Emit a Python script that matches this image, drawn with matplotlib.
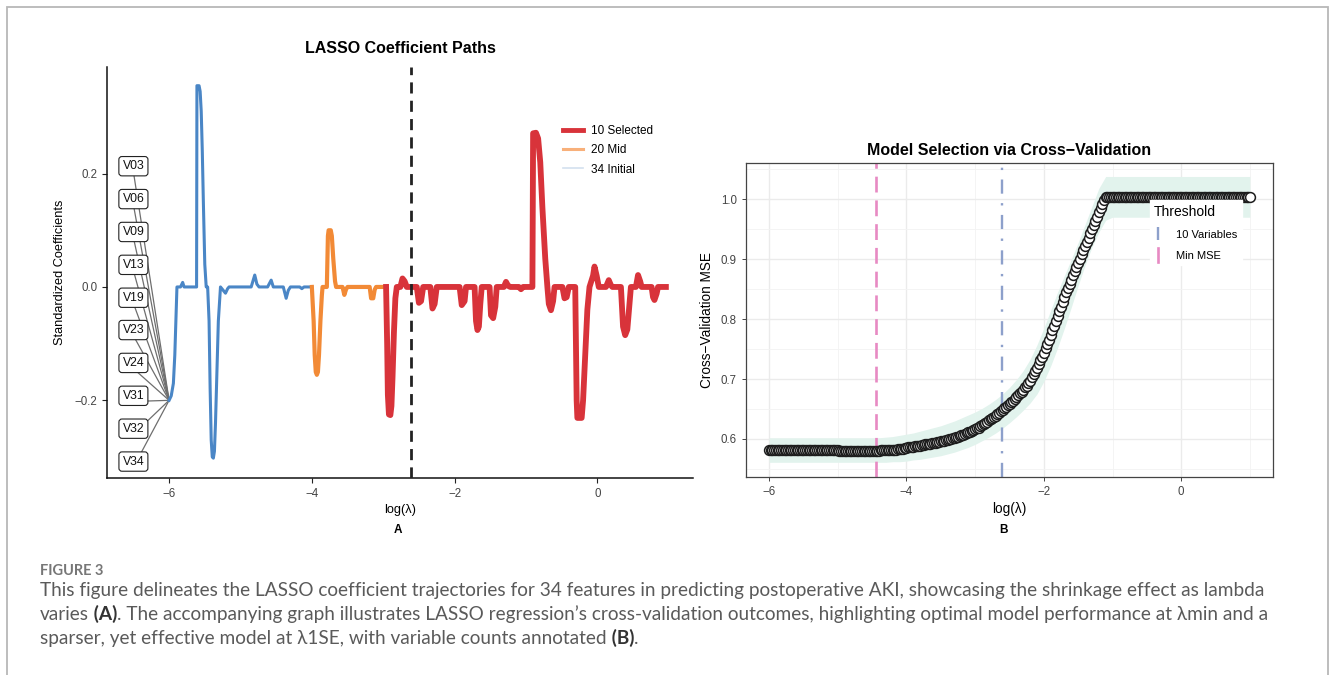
import numpy as np
import matplotlib.pyplot as plt
from matplotlib.lines import Line2D
from matplotlib.patches import Rectangle
from matplotlib.legend_handler import HandlerLine2D

plt.rcParams['font.family'] = ['Liberation Sans', 'DejaVu Sans']

# ---- panel A : coefficient paths (log lambda, coef)
blue_path = [(-6.00, -0.200), (-5.97, -0.192), (-5.94, -0.170), (-5.92, -0.120), (-5.905, -0.060),
             (-5.89, 0.000), (-5.84, 0.000), (-5.81, 0.008), (-5.79, 0.000), (-5.615, 0.000),
             (-5.61, 0.355), (-5.58, 0.355), (-5.565, 0.345), (-5.55, 0.310), (-5.535, 0.240),
             (-5.52, 0.150), (-5.50, 0.040), (-5.48, 0.000), (-5.46, 0.000), (-5.44, -0.060),
             (-5.425, -0.180), (-5.41, -0.270), (-5.395, -0.300), (-5.38, -0.302), (-5.365, -0.290),
             (-5.35, -0.240), (-5.33, -0.150), (-5.31, -0.060), (-5.28, 0.000), (-5.21, -0.011),
             (-5.18, -0.003), (-5.16, 0.000), (-4.85, 0.000), (-4.80, 0.021), (-4.77, 0.005),
             (-4.74, 0.000), (-4.62, 0.000), (-4.57, 0.012), (-4.54, 0.000), (-4.40, 0.000),
             (-4.36, -0.020), (-4.33, -0.006), (-4.30, 0.000), (-4.17, 0.000), (-4.14, -0.003),
             (-4.11, 0.000), (-4.00, 0.000)]
orange_path = [(-4.00, 0.000), (-3.975, -0.060), (-3.96, -0.120), (-3.945, -0.150), (-3.93, -0.155),
               (-3.915, -0.150), (-3.90, -0.120), (-3.88, -0.060), (-3.86, -0.015), (-3.85, 0.000),
               (-3.79, 0.000), (-3.775, 0.090), (-3.765, 0.100), (-3.735, 0.100), (-3.72, 0.090),
               (-3.70, 0.050), (-3.675, 0.010), (-3.66, 0.000), (-3.57, 0.000), (-3.545, -0.014),
               (-3.52, -0.004), (-3.50, 0.000), (-3.19, 0.000), (-3.17, -0.020), (-3.14, -0.020),
               (-3.12, -0.005), (-3.10, 0.000), (-2.96, 0.000)]
red_path = [(-2.96, 0.000), (-2.945, -0.100), (-2.935, -0.190), (-2.92, -0.225), (-2.90, -0.226),
            (-2.885, -0.210), (-2.87, -0.160), (-2.85, -0.080), (-2.83, -0.020), (-2.81, 0.000),
            (-2.76, 0.000), (-2.73, 0.015), (-2.70, 0.010), (-2.67, 0.000), (-2.53, 0.000),
            (-2.50, -0.028), (-2.47, -0.025), (-2.44, 0.000), (-2.34, 0.000), (-2.31, -0.038),
            (-2.28, -0.030), (-2.25, 0.000), (-1.93, 0.000), (-1.90, -0.032), (-1.86, -0.025),
            (-1.84, 0.000), (-1.72, 0.000), (-1.70, -0.060), (-1.68, -0.076), (-1.66, -0.070),
            (-1.64, -0.030), (-1.62, 0.000), (-1.51, 0.000), (-1.49, -0.050), (-1.46, -0.055),
            (-1.43, -0.035), (-1.41, 0.000), (-1.31, 0.000), (-1.28, 0.009), (-1.25, 0.002),
            (-1.22, 0.000), (-1.10, 0.000), (-1.07, -0.004), (-1.04, 0.000), (-0.91, 0.000),
            (-0.90, 0.271), (-0.86, 0.272), (-0.83, 0.262), (-0.80, 0.220), (-0.77, 0.140),
            (-0.73, 0.050), (-0.70, 0.000), (-0.68, -0.030), (-0.65, -0.041), (-0.62, -0.025),
            (-0.60, 0.000), (-0.49, 0.000), (-0.46, -0.020), (-0.43, -0.018), (-0.40, 0.000),
            (-0.31, 0.000), (-0.29, -0.200), (-0.28, -0.231), (-0.22, -0.231), (-0.20, -0.200),
            (-0.17, -0.120), (-0.14, -0.040), (-0.11, 0.000), (-0.06, 0.020), (-0.04, 0.036),
            (-0.01, 0.020), (0.02, 0.000), (0.12, 0.000), (0.16, 0.012), (0.19, 0.003),
            (0.21, 0.000), (0.33, 0.000), (0.36, -0.070), (0.39, -0.085), (0.42, -0.075),
            (0.45, -0.030), (0.47, 0.000), (0.54, 0.000), (0.57, 0.021), (0.60, 0.010),
            (0.62, 0.000), (0.76, 0.000), (0.78, -0.018), (0.80, -0.023), (0.83, -0.012),
            (0.85, 0.000), (0.96, 0.000)]

var_names = ['V03', 'V06', 'V09', 'V13', 'V19', 'V23', 'V24', 'V31', 'V32', 'V34']
var_label_y = [0.213, 0.155, 0.097, 0.039, -0.019, -0.076, -0.134, -0.192, -0.250, -0.308]
label_x = -6.5
start_pt = (-6.0, -0.2)
lam_1se = -2.61
lam_min = -4.45

# ---- panel B : cross-validation curve, log lambda grid -6 .. 1 in steps of 0.025
lam_cv = np.round(np.linspace(-6.0, 1.0, 281), 3)
mse_cv = ([0.581] * 41 + [0.580] * 20 +
          # -4.475 .. -3.025
          [0.580, 0.580, 0.580, 0.580, 0.581, 0.581, 0.581, 0.581, 0.581, 0.581,
           0.582, 0.582, 0.582, 0.582, 0.583, 0.583, 0.584, 0.584, 0.585, 0.585,
           0.586, 0.586, 0.587, 0.587, 0.588, 0.588, 0.589, 0.589, 0.590, 0.590,
           0.591, 0.591, 0.592, 0.592, 0.593, 0.593, 0.594, 0.595, 0.595, 0.596,
           0.597, 0.597, 0.598, 0.599, 0.600, 0.600, 0.601, 0.602, 0.603, 0.604,
           0.605, 0.606, 0.607, 0.608, 0.610, 0.611, 0.612, 0.613, 0.615] +
          # -3.0 .. -1.1
          [0.616, 0.618, 0.619, 0.621, 0.623, 0.625, 0.627, 0.629, 0.631, 0.633,
           0.635, 0.637, 0.639, 0.641, 0.644, 0.646, 0.648, 0.651, 0.653, 0.656,
           0.658, 0.661, 0.664, 0.667, 0.670, 0.673, 0.676, 0.679, 0.682, 0.686,
           0.689, 0.693, 0.697,
           0.703, 0.708, 0.713, 0.719, 0.725, 0.731, 0.737, 0.744, 0.751, 0.758,
           0.765, 0.773, 0.781, 0.789, 0.797, 0.805, 0.813, 0.821, 0.829, 0.837,
           0.845, 0.852, 0.859, 0.866, 0.873, 0.880, 0.887, 0.894, 0.901, 0.908,
           0.915, 0.922, 0.929, 0.936, 0.943, 0.950, 0.957, 0.964, 0.971, 0.978,
           0.985, 0.992, 0.998, 1.003] +
          # -1.075 .. 1.0
          [1.003] * 84)

lam_band = np.round(np.arange(-6.0, 1.001, 0.1), 1)
band_lo = [0.561] * 16 + [0.561, 0.561, 0.562, 0.562, 0.563, 0.565, 0.566, 0.568, 0.570, 0.572,
                          0.575, 0.578, 0.582, 0.586, 0.591, 0.597, 0.603, 0.610, 0.618, 0.627,
                          0.637, 0.648, 0.660, 0.675, 0.696, 0.722, 0.752, 0.785, 0.820, 0.856,
                          0.890, 0.920, 0.945, 0.965] + [0.970] * 21
band_hi = [0.602] * 16 + [0.602, 0.603, 0.604, 0.606, 0.608, 0.610, 0.613, 0.616, 0.619, 0.622,
                          0.626, 0.630, 0.635, 0.640, 0.645, 0.651, 0.658, 0.666, 0.675, 0.686,
                          0.699, 0.714, 0.733, 0.757, 0.785, 0.815, 0.845, 0.873, 0.900, 0.928,
                          0.958, 0.988, 1.018, 1.038] + [1.038] * 21

caption_1 = ("This figure delineates the LASSO coefficient trajectories for 34 features in predicting "
             "postoperative AKI, showcasing the shrinkage effect as lambda")
caption_2 = (". The accompanying graph illustrates LASSO regression\u2019s cross-validation outcomes, "
             "highlighting optimal model performance at \u03bbmin and a")
caption_3 = "sparser, yet effective model at \u03bb1SE, with variable counts annotated"


class VLineHandler(HandlerLine2D):
    # ggplot style vertical key glyph
    def create_artists(self, legend, orig, xdescent, ydescent, width, height, fontsize, trans):
        x = width / 2 - xdescent
        ln = Line2D([x, x], [-ydescent - 0.35 * height, 1.35 * height - ydescent],
                    color=orig.get_color(), lw=orig.get_linewidth(), linestyle=orig.get_linestyle())
        ln.set_transform(trans)
        return [ln]


fig = plt.figure(figsize=(13.3, 6.75), dpi=100)

# outer frame
fig.add_artist(Rectangle((7 / 1330, -0.05), 1322 / 1330 - 0.0005, 1.05 - 7 / 675, transform=fig.transFigure,
                         fill=False, edgecolor='#b8b8b8', lw=1.3))

# ------------------------------------------------------------ panel A
ax = fig.add_axes([107 / 1330, 1 - 478 / 675, 586 / 1330, 411 / 675])
for name, yv in zip(var_names, var_label_y):
    ax.plot([label_x, start_pt[0]], [yv - 0.01, start_pt[1]], color='#6e6e6e', lw=0.9, zorder=2)
    ax.text(label_x, yv, name, ha='center', va='center', fontsize=8.8, color='#111', zorder=5,
            bbox=dict(boxstyle='round,pad=0.3,rounding_size=0.25', fc='white', ec='#222', lw=0.8))

bx, by = zip(*blue_path)
ox, oy = zip(*orange_path)
rx, ry = zip(*red_path)
ax.plot(bx, by, color='#c9dcef', lw=1.0, zorder=3)
ax.plot(bx, by, color='#4a86c6', lw=2.2, zorder=3)
ax.plot(ox, oy, color='#f28a36', lw=3.0, zorder=3, solid_joinstyle='round')
ax.plot(rx, ry, color='#d8333a', lw=4.2, zorder=3, solid_joinstyle='round')
ax.axvline(lam_1se, color='#222222', lw=2.0, ls=(0, (4, 2.6)), zorder=4)

ax.set_xlim(-6.87, 1.34)
ax.set_ylim(-0.337, 0.388)
ax.set_xticks([-6, -4, -2, 0])
ax.set_yticks([-0.2, 0.0, 0.2])
ax.set_yticklabels(['\u22120.2', '0.0', '0.2'])
for s in ['top', 'right']:
    ax.spines[s].set_visible(False)
for s in ['left', 'bottom']:
    ax.spines[s].set_linewidth(1.1)
    ax.spines[s].set_color('#111')
ax.tick_params(length=3.5, width=0.8, labelsize=8.3, labelcolor='#444', color='#222')
ax.set_xlabel('log(\u03bb)', fontsize=9.2, labelpad=3)
ax.set_ylabel('Standardized Coefficients', fontsize=9.2, labelpad=6)
ax.set_title('LASSO Coefficient Paths', fontsize=11.5, fontweight='bold', pad=10)

leg_a = [Line2D([], [], color='#d8333a', lw=3.5, label='10 Selected'),
         Line2D([], [], color='#f8b07a', lw=2.2, label='20 Mid'),
         Line2D([], [], color='#d3e0ef', lw=1.2, label='34 Initial')]
ax.legend(handles=leg_a, loc='upper left', bbox_to_anchor=(0.76, 0.885), frameon=False,
          fontsize=8.5, handlelength=1.7, labelspacing=0.62, handletextpad=0.7)

# ------------------------------------------------------------ panel B
ax2 = fig.add_axes([745.7 / 1330, 1 - 476.7 / 675, 527.6 / 1330, 313.4 / 675])
ax2.fill_between(lam_band, band_lo, band_hi, color='#e2f3ed', lw=0, zorder=1)
ax2.scatter(lam_cv, mse_cv, s=50, facecolor='white', edgecolor='#1c1c1c', linewidth=1.1, zorder=3)
ax2.axvline(lam_1se, color='#8da0cb', lw=1.7, ls=(0, (6, 4, 1, 4)), zorder=2)
ax2.axvline(lam_min, color='#e78ac3', lw=1.9, ls=(0, (6, 3)), zorder=2)

ax2.set_xlim(-6.34, 1.34)
ax2.set_ylim(0.537, 1.060)
ax2.set_xticks([-6, -4, -2, 0])
ax2.set_xticks([-5, -3, -1, 1], minor=True)
ax2.set_yticks([0.6, 0.7, 0.8, 0.9, 1.0])
ax2.set_yticks([0.55, 0.65, 0.75, 0.85, 0.95, 1.05], minor=True)
ax2.grid(which='major', color='#ebebeb', lw=1.0, zorder=0)
ax2.grid(which='minor', color='#f3f3f3', lw=0.6, zorder=0)
ax2.set_axisbelow(True)
for s in ax2.spines.values():
    s.set_color('#444')
    s.set_linewidth(0.9)
ax2.tick_params(which='major', length=3, width=0.7, labelsize=8.3, labelcolor='#444', color='#444')
ax2.tick_params(which='minor', length=0)
ax2.set_xlabel('log(\u03bb)', fontsize=9.8, labelpad=3)
ax2.set_ylabel('Cross\u2212Validation MSE', fontsize=9.8, labelpad=5)
ax2.set_title('Model Selection via Cross\u2212Validation', fontsize=11.5, fontweight='bold', pad=6)

leg_b = [Line2D([], [], color='#8da0cb', lw=1.7, ls='-.', label='10 Variables'),
         Line2D([], [], color='#e78ac3', lw=1.9, ls='-', label='Min MSE')]
lg = ax2.legend(handles=leg_b, title='Threshold', loc='upper left', bbox_to_anchor=(0.755, 0.9),
                frameon=True, fancybox=False, edgecolor='white', framealpha=1.0, fontsize=8,
                title_fontsize=10, handlelength=0.8, handletextpad=1.2, labelspacing=1.0,
                alignment='left', handler_map={Line2D: VLineHandler()})

# ------------------------------------------------------------ figure text
ov = fig.add_axes([0, 0, 1, 1], zorder=-1)
ov.axis('off')
ov.set_xlim(0, 1330)
ov.set_ylim(675, 0)
ov.text(398, 530, 'A', ha='center', va='center', fontsize=8.5, fontweight='bold')
ov.text(1003, 530, 'B', ha='center', va='center', fontsize=8.5, fontweight='bold')

cap_font = ['Lato', 'DejaVu Sans']
cap_col = '#5a5a5a'
cap_size = 13.7
ov.text(40, 575, 'FIGURE 3', fontsize=10.5, color='#777777', family=cap_font, fontweight='bold', va='baseline')
ov.text(40, 596, caption_1, fontsize=cap_size, color=cap_col, family=cap_font, va='baseline')
t = ov.text(40, 620, 'varies', fontsize=cap_size, color=cap_col, family=cap_font, va='baseline')
t = ov.annotate(' (A)', xy=(1, 0), xycoords=t, va='bottom', ha='left', fontsize=cap_size,
                color='#333333', family=cap_font, fontweight='bold')
ov.annotate(caption_2, xy=(1, 0), xycoords=t, va='bottom', ha='left', fontsize=cap_size,
            color=cap_col, family=cap_font)
t = ov.text(40, 644, caption_3, fontsize=cap_size, color=cap_col, family=cap_font, va='baseline')
t = ov.annotate(' (B)', xy=(1, 0), xycoords=t, va='bottom', ha='left', fontsize=cap_size,
                color='#333333', family=cap_font, fontweight='bold')
ov.annotate('.', xy=(1, 0), xycoords=t, va='bottom', ha='left', fontsize=cap_size,
            color=cap_col, family=cap_font)

fig.savefig('out.png', dpi=100)
